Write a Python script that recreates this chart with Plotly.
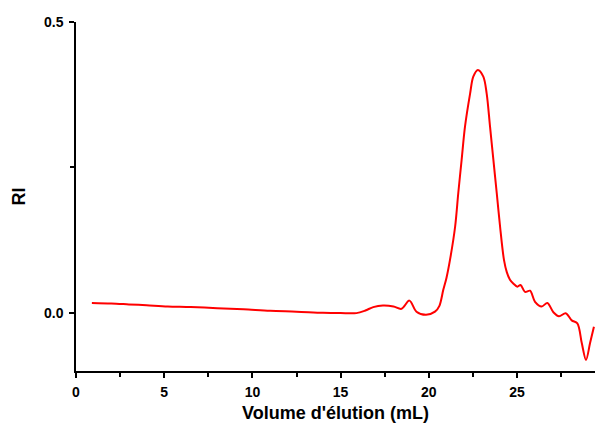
import plotly.graph_objects as go

volume_ml = [0.9, 2.0, 3.0, 4.0, 5.2, 6.5, 8.0, 9.5, 11.0, 12.5, 14.0, 15.0, 15.9,
             16.4, 16.85, 17.4, 18.0, 18.45, 18.9, 19.3, 19.84, 20.35, 20.6, 20.82,
             21.0, 21.2, 21.49, 21.67, 21.86, 22.05, 22.34, 22.52, 22.78, 23.09,
             23.28, 23.47, 23.66, 23.85, 24.04, 24.26, 24.42, 24.6, 24.8, 25.02,
             25.2, 25.45, 25.74, 26.02, 26.4, 26.72, 27.06, 27.38, 27.76, 28.1,
             28.42, 28.67, 28.91, 29.14, 29.36]
ri_signal = [0.017, 0.016, 0.0145, 0.013, 0.011, 0.010, 0.008, 0.006, 0.0035, 0.002,
             0.0, -0.0005, -0.0005, 0.004, 0.0098, 0.0126, 0.011, 0.0069, 0.021,
             0.002, -0.0034, 0.002, 0.012, 0.0395, 0.06, 0.091, 0.148, 0.206, 0.263,
             0.32, 0.377, 0.406, 0.4175, 0.406, 0.377, 0.32, 0.263, 0.206, 0.148,
             0.091, 0.07, 0.057, 0.05, 0.045, 0.048, 0.036, 0.038, 0.019, 0.011,
             0.017, 0.001, -0.006, -0.0006, -0.013, -0.018, -0.052, -0.081, -0.052,
             -0.024]

x_ticks = [0, 5, 10, 15, 20, 25]
y_ticks = [0.0, 0.5]
y_tick_labels = ["0.0", "0.5"]

font_family = "Liberation Sans, Arial, sans-serif"

fig = go.Figure()
fig.add_trace(go.Scatter(
    x=volume_ml, y=ri_signal, mode="lines",
    line=dict(color="#ff0000", width=2, shape="spline", smoothing=0.9),
    showlegend=False, hoverinfo="skip",
))

fig.update_layout(
    width=595, height=426,
    margin=dict(l=76, r=0, t=22, b=55, autoexpand=False),
    plot_bgcolor="white", paper_bgcolor="white",
    font=dict(family=font_family, color="black"),
)
fig.update_xaxes(
    range=[0, 29.42], showgrid=False, zeroline=False, automargin=False,
    showline=True, linecolor="black", linewidth=1.5,
    ticks="outside", ticklen=5, tickwidth=1.5, tickcolor="black",
    tickvals=x_ticks, ticktext=[f"<b>{v}</b>" for v in x_ticks],
    tickfont=dict(size=14, family=font_family), ticklabelstandoff=2,
    minor=dict(dtick=2.5, tick0=0, ticks="outside", ticklen=4, tickwidth=1.5, tickcolor="black"),
    title=dict(text="<b>Volume d'élution (mL)</b>", font=dict(size=18, family=font_family), standoff=8),
)
fig.update_yaxes(
    range=[-0.1, 0.5], showgrid=False, zeroline=False, automargin=False,
    showline=True, linecolor="black", linewidth=1.5,
    ticks="outside", ticklen=5, tickwidth=1.5, tickcolor="black",
    tickvals=y_ticks, ticktext=[f"<b>{t}</b>" for t in y_tick_labels],
    tickfont=dict(size=14, family=font_family), ticklabelstandoff=3,
    minor=dict(tickvals=[0.25], ticks="outside", ticklen=4, tickwidth=1.5, tickcolor="black"),
    title=dict(text="<b>RI</b>", font=dict(size=18, family=font_family), standoff=14),
)

fig.write_html("out.html", config={"displayModeBar": False},
               post_script="document.body.style.margin='0';document.body.style.overflow='hidden';")
